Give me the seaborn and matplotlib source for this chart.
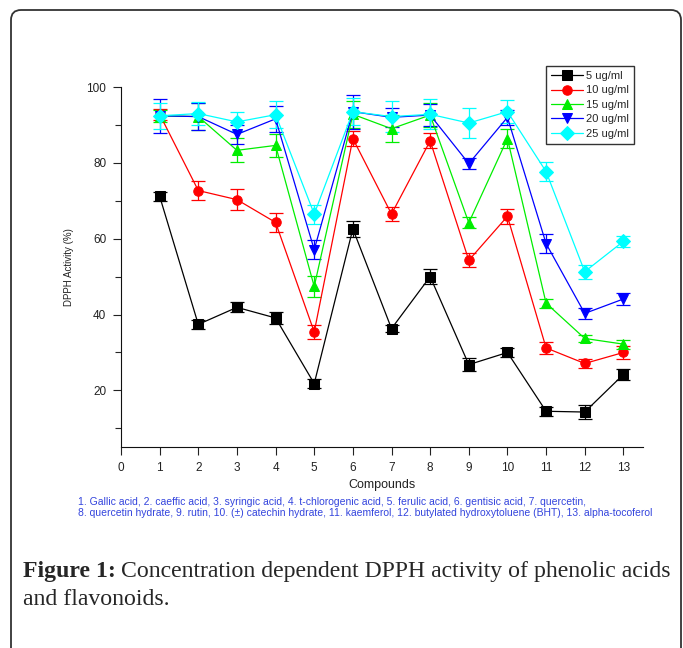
import numpy as np
import pandas as pd
import seaborn as sns
import matplotlib.pyplot as plt
from matplotlib.patches import FancyBboxPatch
from matplotlib.transforms import IdentityTransform

# DPPH activity (%), compounds 1..13
compounds = list(range(1, 14))
conc_labels = ['5 ug/ml', '10 ug/ml', '15 ug/ml', '20 ug/ml', '25 ug/ml']

act_5 = [71.2, 37.4, 41.9, 39.1, 21.8, 62.6, 36.3, 50.0, 26.8, 30.0, 14.5, 14.3, 24.2]
act_10 = [92.8, 72.7, 70.3, 64.3, 35.4, 86.4, 66.5, 85.8, 54.3, 65.9, 31.2, 27.1, 30.0]
act_15 = [92.4, 92.2, 83.3, 84.6, 47.4, 92.8, 89.0, 92.6, 64.2, 86.4, 43.0, 33.7, 32.2]
act_20 = [92.4, 92.2, 87.5, 91.6, 57.1, 93.5, 92.0, 92.6, 79.8, 92.0, 58.7, 40.3, 44.1]
act_25 = [92.4, 93.0, 90.8, 92.7, 66.5, 93.5, 92.2, 92.8, 90.5, 93.5, 77.7, 51.3, 59.3]

err_5 = [1.2, 1.2, 1.3, 1.6, 1.2, 2.2, 1.0, 2.0, 1.8, 1.2, 1.2, 1.8, 1.4]
err_10 = [1.5, 2.5, 2.8, 2.5, 1.8, 2.0, 1.8, 2.0, 1.8, 2.0, 1.5, 1.2, 1.6]
err_15 = [1.5, 3.5, 3.2, 3.0, 2.8, 3.5, 3.5, 3.2, 1.5, 2.5, 1.2, 1.0, 1.2]
err_20 = [4.5, 3.5, 2.5, 3.5, 2.5, 4.5, 2.5, 3.0, 1.5, 2.0, 2.5, 1.5, 1.5]
err_25 = [3.5, 3.0, 2.5, 3.5, 2.5, 3.5, 4.0, 4.0, 4.0, 3.0, 2.5, 1.8, 1.5]

footnote_1 = ('1. Gallic acid, 2. caeffic acid, 3. syringic acid, 4. t-chlorogenic acid, '
              '5. ferulic acid, 6. gentisic acid, 7. quercetin,')
footnote_2 = ('8. quercetin hydrate, 9. rutin, 10. (\u00b1) catechin hydrate, 11. kaemferol, '
              '12. butylated hydroxytoluene (BHT), 13. alpha-tocoferol')

all_act = [act_5, act_10, act_15, act_20, act_25]
all_err = [err_5, err_10, err_15, err_20, err_25]
colors = ['#000000', '#ff0000', '#00ee00', '#0000ff', '#00ffff']
markers = ['s', 'o', '^', 'v', 'D']

rows = []
for lab, vals in zip(conc_labels, all_act):
    for c, v in zip(compounds, vals):
        rows.append({'Compound': c, 'Activity': v, 'Conc': lab})
df = pd.DataFrame(rows)

sns.set_style('ticks')
plt.rcParams['font.family'] = ['Liberation Sans', 'DejaVu Sans']

fig = plt.figure(figsize=(6.83, 6.48), dpi=100)
ax = fig.add_axes([121 / 683, 1 - 447.3 / 648, (642.7 - 121) / 683, (447.3 - 87) / 648])

# error bars first so the markers sit on top
for vals, errs, col in zip(all_act, all_err, colors):
    ax.errorbar(compounds, vals, yerr=errs, fmt='none', ecolor=col,
                elinewidth=0.9, capsize=5, capthick=0.9, zorder=1)
n_err = len(ax.lines)

sns.lineplot(data=df, x='Compound', y='Activity', hue='Conc', style='Conc',
             palette=colors, markers=markers, dashes=False, ax=ax,
             lw=0.9, markersize=6.8, zorder=2)

for line in ax.lines[n_err:]:
    line.set_markeredgecolor(line.get_color())

ax.set_xlim(0, 13.5)
ax.set_ylim(5, 100)
ax.set_xticks(range(0, 14))
ax.set_yticks([20, 40, 60, 80, 100])
ax.set_yticks([10, 30, 50, 70, 90], minor=True)
ax.tick_params(axis='both', which='major', length=5.5, width=0.8, pad=5,
               labelsize=8.5, colors='#222222')
ax.tick_params(axis='y', which='minor', length=4, width=0.8)
sns.despine(ax=ax)
for s in ['left', 'bottom']:
    ax.spines[s].set_linewidth(0.8)
    ax.spines[s].set_color('#111111')

ax.set_xlabel('Compounds', fontsize=9, color='#222222', labelpad=4)
ax.set_ylabel('DPPH Activity (%)', fontsize=7, color='#222222', labelpad=9)

handles, labels = ax.get_legend_handles_labels()
for h in handles:
    h.set_markeredgecolor(h.get_color())
leg = ax.legend(handles, labels, loc='upper left',
                bbox_to_anchor=(545.7 / 683, 1 - 66 / 648), bbox_transform=fig.transFigure,
                fontsize=8, handlelength=2.9, handletextpad=0.3, labelspacing=0.4,
                borderpad=0.45, borderaxespad=0, frameon=True, fancybox=False)
leg.get_frame().set_edgecolor('black')
leg.get_frame().set_linewidth(1.0)

fig.text(78 / 683, 1 - 501.7 / 648, footnote_1, fontsize=7.45, color='#3344dd', va='center')
fig.text(78 / 683, 1 - 512.5 / 648, footnote_2, fontsize=7.45, color='#3344dd', va='center')

# caption: bold label then regular text
serif = ['Liberation Serif', 'DejaVu Serif']
t1 = fig.text(23 / 683, 1 - 577.5 / 648, 'Figure 1:', fontsize=17.1, fontweight='bold',
              family=serif, va='baseline')
fig.canvas.draw()
bb = t1.get_window_extent()
fig.text((bb.x1 + 5) / 683, 1 - 577.5 / 648,
         'Concentration dependent DPPH activity of phenolic acids',
         fontsize=17.1, family=serif, va='baseline')
fig.text(23 / 683, 1 - 605 / 648, 'and flavonoids.', fontsize=17.1, family=serif, va='baseline')

# rounded frame around the figure
frame = FancyBboxPatch((11, -40), 670, 678, boxstyle='round,pad=0,rounding_size=10',
                       transform=IdentityTransform(), fill=False, edgecolor='#333333',
                       linewidth=1.3)
fig.add_artist(frame)

fig.savefig('out.png', dpi=100)
